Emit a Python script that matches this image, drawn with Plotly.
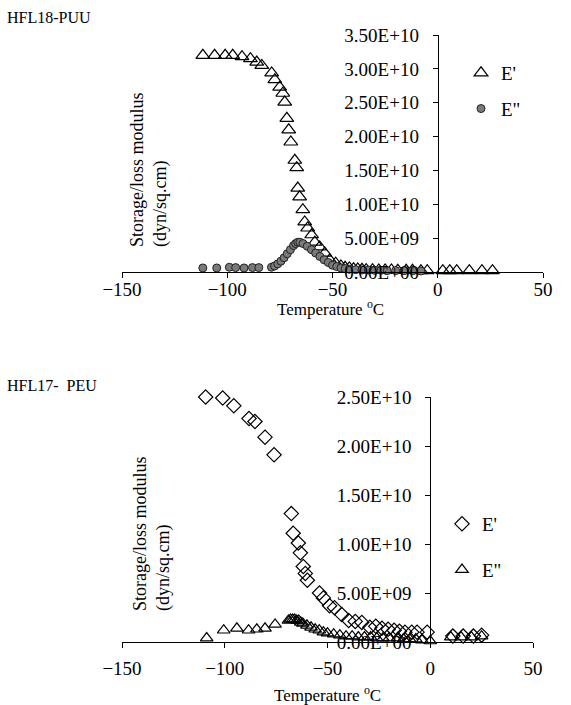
import plotly.graph_objects as go

# ---------------- data (values in units of 1e10 dyn/sq.cm) ----------------
top_Ep_T = [-111.6, -106, -101, -97.4, -93, -89, -86, -83.6, -78.9, -77.4, -75.1, -73.6, -72.7, -71.7,
            -70.8, -69.8, -67.9, -67.0, -66.5, -65.6, -64.1, -63.2, -61.8, -59.9, -58.4, -56.1, -53.7,
            -51.3, -48.5, -46, -44, -42, -40, -38, -36, -34, -31, -28, -25, -22, -19, -15, -12, -8, -5,
            2.4, 5.7, 9, 15, 21, 26]
top_Ep_V = [3.2, 3.2, 3.2, 3.2, 3.18, 3.15, 3.1, 3.05, 2.94, 2.84, 2.73, 2.64, 2.51, 2.27,
            2.10, 1.92, 1.65, 1.54, 1.24, 1.11, 0.92, 0.74, 0.65, 0.55, 0.44, 0.37, 0.28,
            0.18, 0.13, 0.09, 0.07, 0.06, 0.05, 0.045, 0.04, 0.035, 0.035, 0.03, 0.03, 0.03, 0.025,
            0.025, 0.025, 0.02, 0.02, 0.02, 0.02, 0.02, 0.02, 0.02, 0.02]

top_Epp_T = [-111.6, -105, -99, -96, -92, -88, -85, -79, -77.5, -76, -74.5, -73, -71.5, -70, -68.5,
             -67.5, -66.5, -65.5, -64, -62, -60, -58, -56, -54, -52, -50, -48, -46, -44, -42, -39,
             -36, -33, -30, -27, -24, -20, -16, -12, -8]
top_Epp_V = [0.06, 0.06, 0.07, 0.065, 0.06, 0.065, 0.065, 0.07, 0.09, 0.12, 0.16, 0.21, 0.27, 0.33,
             0.39, 0.42, 0.44, 0.44, 0.42, 0.38, 0.33, 0.28, 0.23, 0.18, 0.14, 0.10, 0.08, 0.06, 0.05,
             0.04, 0.035, 0.03, 0.03, 0.025, 0.025, 0.02, 0.02, 0.02, 0.02, 0.015]

bot_Ep_T = [-109.3, -101, -95.6, -88.2, -85.3, -80.4, -76, -67.6, -66.7, -64.2, -63.2, -61.8, -60.8,
            -59.8, -53.9, -52, -49, -46.6, -43.1, -39.7, -36.5, -33.3, -29.4, -26.5, -23.5, -20.5,
            -17.6, -15, -12.3, -9, -6.4, -1.5, 11, 16, 21, 25]
bot_Ep_V = [2.5, 2.49, 2.41, 2.28, 2.25, 2.09, 1.91, 1.31, 1.11, 1.01, 0.91, 0.77, 0.70,
            0.63, 0.50, 0.45, 0.37, 0.35, 0.28, 0.22, 0.21, 0.20, 0.15, 0.16, 0.14, 0.13,
            0.12, 0.11, 0.10, 0.10, 0.10, 0.10, 0.06, 0.06, 0.06, 0.07]

bot_Epp_T = [-108.8, -100.5, -94.1, -88.4, -84.4, -80.4, -75.5, -69, -68, -67, -66, -65, -64, -63,
             -62, -60, -58, -56, -54, -52, -50, -47, -44, -41, -38, -35, -32, -29, -26, -23, -20,
             -16, -13, -10, -7, -4, 0, 10, 15, 20, 25]
bot_Epp_V = [0.04, 0.12, 0.14, 0.12, 0.13, 0.14, 0.18, 0.22, 0.23, 0.23, 0.23, 0.22, 0.22, 0.2,
             0.19, 0.17, 0.15, 0.13, 0.12, 0.1, 0.09, 0.08, 0.07, 0.06, 0.06, 0.05, 0.05, 0.05,
             0.04, 0.04, 0.04, 0.04, 0.03, 0.03, 0.03, 0.02, 0.01, 0.05, 0.05, 0.05, 0.06]

x_ticks = [-150, -100, -50, 0, 50]
top_y_ticks = [0, 0.5e10, 1.0e10, 1.5e10, 2.0e10, 2.5e10, 3.0e10, 3.5e10]
top_y_text = ["0.00E+00", "5.00E+09", "1.00E+10", "1.50E+10", "2.00E+10", "2.50E+10", "3.00E+10", "3.50E+10"]
bot_y_ticks = [0, 0.5e10, 1.0e10, 1.5e10, 2.0e10, 2.5e10]
bot_y_text = ["0.00E+00", "5.00E+09", "1.00E+10", "1.50E+10", "2.00E+10", "2.50E+10"]

S = 1e10
FONT = "Liberation Serif, Times New Roman, serif"
FS = 19

fig = go.Figure()

fig.add_trace(go.Scatter(x=top_Ep_T, y=[v * S for v in top_Ep_V], mode="markers", name="E'",
                         xaxis="x", yaxis="y", legend="legend", legendgroup="a", cliponaxis=False,
                         marker=dict(symbol="triangle-up-open", size=12, color="black", line=dict(width=1.2))))
fig.add_trace(go.Scatter(x=top_Epp_T, y=[v * S for v in top_Epp_V], mode="markers", name='E"',
                         xaxis="x", yaxis="y", legend="legend", legendgroup="b", cliponaxis=False,
                         marker=dict(symbol="circle", size=8, color="#7a7a7a", line=dict(width=1, color="#222222"))))
fig.add_trace(go.Scatter(x=bot_Ep_T, y=[v * S for v in bot_Ep_V], mode="markers", name="E'",
                         xaxis="x2", yaxis="y2", legend="legend2", legendgroup="c", cliponaxis=False,
                         marker=dict(symbol="diamond-open", size=11, color="black", line=dict(width=1.2))))
fig.add_trace(go.Scatter(x=bot_Epp_T, y=[v * S for v in bot_Epp_V], mode="markers", name='E"',
                         xaxis="x2", yaxis="y2", legend="legend2", legendgroup="d", cliponaxis=False,
                         marker=dict(symbol="triangle-up-open", size=11, color="black", line=dict(width=1.2))))

W, H = 571, 705
ML, MR, MT, MB = 122, 28, 35, 63
PW, PH = W - ML - MR, H - MT - MB


def px(x):
    return (x - ML) / PW


def py(y):
    return 1 - (y - MT) / PH


axis_common = dict(showline=True, linecolor="black", linewidth=1, ticks="outside", ticklen=5,
                   tickcolor="black", showgrid=False, zeroline=False,
                   tickfont=dict(family=FONT, size=FS, color="black"))

x2_end = px(533)

fig.update_layout(
    width=W, height=H, margin=dict(l=ML, r=MR, t=MT, b=MB),
    paper_bgcolor="white", plot_bgcolor="white",
    font=dict(family=FONT, size=FS, color="black"),
    xaxis=dict(domain=[0, 1], anchor="y", range=[-150, 50], tickvals=x_ticks,
               ticklabelstandoff=-5, **axis_common),
    yaxis=dict(domain=[py(272), 1], anchor="free", position=0.75, range=[0, 3.5e10],
               tickvals=top_y_ticks, ticktext=top_y_text, ticklabelstandoff=10, **axis_common),
    xaxis2=dict(domain=[0, x2_end], anchor="y2", range=[-150, 50], tickvals=x_ticks,
                ticklabelstandoff=4, **axis_common),
    yaxis2=dict(domain=[0, py(397)], anchor="free", position=x2_end * 0.75, range=[0, 2.5e10],
                tickvals=bot_y_ticks, ticktext=bot_y_text, ticklabelstandoff=10, **axis_common),
    legend=dict(x=px(461), y=py(54), xanchor="left", yanchor="top", bgcolor="rgba(0,0,0,0)",
                traceorder="grouped", tracegroupgap=8, font=dict(family=FONT, size=FS)),
    legend2=dict(x=px(442), y=py(505), xanchor="left", yanchor="top", bgcolor="rgba(0,0,0,0)",
                 traceorder="grouped", tracegroupgap=18, font=dict(family=FONT, size=FS)),
    showlegend=True,
)

ann = [
    dict(text="HFL18-PUU", x=px(5), y=py(17), xanchor="left", yanchor="middle", font=dict(size=16)),
    dict(text="HFL17-\u00a0\u00a0PEU", x=px(5), y=py(385), xanchor="left", yanchor="middle", font=dict(size=16)),
    dict(text="Storage/loss modulus<br>(dyn/sq.cm)", x=px(149), y=py(170), textangle=-90, align="left",
         xanchor="center", yanchor="middle", font=dict(size=18)),
    dict(text="Storage/loss modulus<br>(dyn/sq.cm)", x=px(152), y=py(534), textangle=-90, align="left",
         xanchor="center", yanchor="middle", font=dict(size=18)),
    dict(text="Temperature <sup>o</sup>C", x=px(330), y=py(308), xanchor="center", yanchor="middle",
         font=dict(size=17)),
    dict(text="Temperature <sup>o</sup>C", x=px(327), y=py(694), xanchor="center", yanchor="middle",
         font=dict(size=17)),
]
for a in ann:
    a.update(xref="paper", yref="paper", showarrow=False)
fig.update_layout(annotations=ann)

fig.write_html("out.html")
